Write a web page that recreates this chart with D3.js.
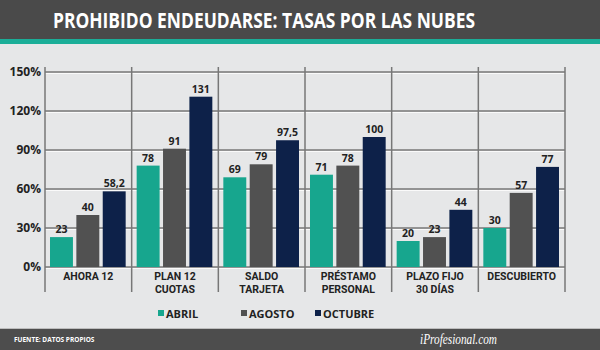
<!DOCTYPE html>
<html>
<head>
<meta charset="utf-8">
<script src="https://cdn.jsdelivr.net/npm/d3@7"></script>
<style>
  body { margin: 0; background: #e6e7e8; }
  svg { display: block; font-family: "Open Sans", sans-serif; }
</style>
</head>
<body>
<div id="chart"></div>
<script>
// datos
var categories = [["AHORA 12"], ["PLAN 12", "CUOTAS"], ["SALDO", "TARJETA"], ["PRÉSTAMO", "PERSONAL"], ["PLAZO FIJO", "30 DÍAS"], ["DESCUBIERTO"]];
var seriesNames = ["ABRIL", "AGOSTO", "OCTUBRE"];
var abril = [23, 78, 69, 71, 20, 30];
var agosto = [40, 91, 79, 78, 23, 57];
var octubre = [58.2, 131, 97.5, 100, 44, 77];
var valueLabels = [["23", "78", "69", "71", "20", "30"], ["40", "91", "79", "78", "23", "57"], ["58,2", "131", "97,5", "100", "44", "77"]];
var yTicks = [0, 30, 60, 90, 120, 150];

var colors = ["#17a68e", "#515151", "#0d2149"];
var series = [abril, agosto, octubre];

var W = 600, H = 350;
var margin = {top: 72, left: 45, right: 35, bottom: 83},
    width = W - margin.left - margin.right,
    height = H - margin.top - margin.bottom;

var svg = d3.select("#chart").append("svg")
    .attr("width", W)
    .attr("height", H);

svg.append("rect").attr("width", W).attr("height", H).attr("fill", "#e6e7e8");

// header
svg.append("rect").attr("width", W).attr("height", 40).attr("fill", "#4a4a4a");
svg.append("rect").attr("y", 39).attr("width", W).attr("height", 5).attr("fill", "#1bae98");
svg.append("text")
    .attr("x", 264).attr("y", 28)
    .attr("text-anchor", "middle")
    .attr("fill", "#fff")
    .attr("font-size", 21)
    .attr("font-weight", "bold")
    .attr("textLength", 422)
    .attr("lengthAdjust", "spacingAndGlyphs")
    .text("PROHIBIDO ENDEUDARSE: TASAS POR LAS NUBES");

var chart = svg.append("g")
    .attr("transform", "translate(" + margin.left + "," + margin.top + ")");

var x0 = d3.scaleBand().domain(d3.range(categories.length)).range([0, width]).padding(0);
var x1 = d3.scaleBand().domain(d3.range(series.length)).range([5, x0.bandwidth() - 6]).paddingInner(0.13);
var y = d3.scaleLinear().domain([0, 150]).range([height, 0]);

// grid horizontal
chart.append("g").selectAll("line")
    .data(yTicks)
    .enter().append("line")
    .attr("x1", 0).attr("x2", width)
    .attr("y1", function(d) { return y(d) + 1.5; }).attr("y2", function(d) { return y(d) + 1.5; })
    .attr("stroke", "#fafafa").attr("stroke-width", 1);
chart.append("g").selectAll("line")
    .data(yTicks)
    .enter().append("line")
    .attr("x1", 0).attr("x2", width)
    .attr("y1", function(d) { return y(d); }).attr("y2", function(d) { return y(d); })
    .attr("stroke", "#777").attr("stroke-width", 1.5);

// separadores verticales
chart.append("g").selectAll("line")
    .data(d3.range(categories.length + 1))
    .enter().append("line")
    .attr("x1", function(i) { return i * x0.step(); })
    .attr("x2", function(i) { return i * x0.step(); })
    .attr("y1", -5).attr("y2", height + 25)
    .attr("stroke", "#777").attr("stroke-width", 1.5);

// eje y
var yAxis = chart.append("g")
    .call(d3.axisLeft(y).tickValues(yTicks).tickSize(0).tickPadding(4).tickFormat(function(d) { return d + "%"; }));
yAxis.select(".domain").remove();
yAxis.selectAll("text")
    .attr("font-size", 12).attr("font-weight", "bold").attr("fill", "#222")
    .attr("font-family", "Open Sans, sans-serif");

// barras
var groups = chart.selectAll(".cat")
    .data(categories)
    .enter().append("g")
    .attr("class", "cat")
    .attr("transform", function(d, i) { return "translate(" + x0(i) + ",0)"; });

groups.selectAll("rect")
    .data(function(d, i) { return series.map(function(s, k) { return {k: k, v: s[i], label: valueLabels[k][i]}; }); })
    .enter().append("rect")
    .attr("x", function(d) { return x1(d.k); })
    .attr("width", x1.bandwidth())
    .attr("y", function(d) { return y(d.v); })
    .attr("height", function(d) { return height - y(d.v); })
    .attr("fill", function(d) { return colors[d.k]; });

groups.selectAll(".val")
    .data(function(d, i) { return series.map(function(s, k) { return {k: k, v: s[i], label: valueLabels[k][i]}; }); })
    .enter().append("text")
    .attr("class", "val")
    .attr("x", function(d) { return x1(d.k) + x1.bandwidth() / 2; })
    .attr("y", function(d) { return y(d.v) - 4; })
    .attr("text-anchor", "middle")
    .attr("font-size", 10.5).attr("font-weight", "bold").attr("fill", "#222")
    .text(function(d) { return d.label; });

// etiquetas categorias
groups.each(function(d) {
    var g = d3.select(this);
    d.forEach(function(line, j) {
        g.append("text")
            .attr("text-anchor", "middle")
            .attr("font-family", "Roboto, sans-serif")
            .attr("font-size", 10.5).attr("font-weight", "bold").attr("fill", "#222")
            .attr("x", x0.bandwidth() / 2)
            .attr("y", height + 13 + j * 12.5)
            .text(line);
    });
});

// leyenda
var legendX = [158, 241, 315];
var legend = svg.append("g").selectAll("g")
    .data(seriesNames)
    .enter().append("g")
    .attr("transform", function(d, i) { return "translate(" + legendX[i] + ",309)"; });
legend.append("rect").attr("width", 6).attr("height", 6).attr("y", 1)
    .attr("fill", function(d, i) { return colors[i]; });
legend.append("text")
    .attr("x", 8).attr("y", 8.5)
    .attr("font-size", 11).attr("font-weight", "bold").attr("fill", "#222")
    .text(function(d) { return d; });

// pie
svg.append("rect").attr("y", 329).attr("width", W).attr("height", 21).attr("fill", "#4d4d4d");
svg.append("rect").attr("y", 328).attr("width", W).attr("height", 1).attr("fill", "#bdbdbd");
svg.append("text")
    .attr("x", 14).attr("y", 342)
    .attr("font-size", 6.5).attr("font-weight", "bold").attr("fill", "#fff")
    .text("FUENTE: DATOS PROPIOS");
svg.append("text")
    .attr("x", 420).attr("y", 344)
    .attr("font-family", "Liberation Serif, serif")
    .attr("font-style", "italic")
    .attr("font-size", 14).attr("fill", "#fff")
    .attr("textLength", 77)
    .attr("lengthAdjust", "spacingAndGlyphs")
    .text("iProfesional.com");
</script>
</body>
</html>
